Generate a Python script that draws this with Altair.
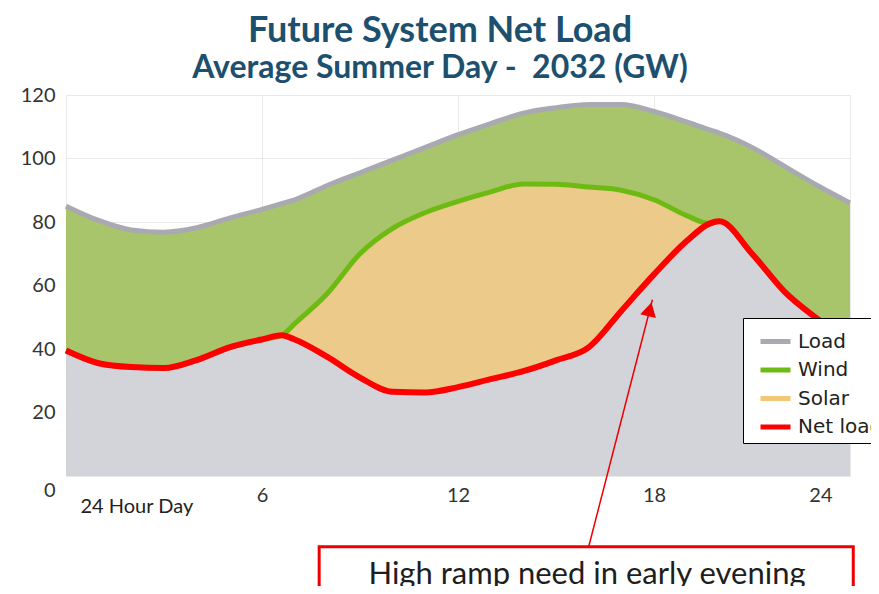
import altair as alt
import pandas as pd

# ---- data ----
hours = [0, 1, 2, 3, 4, 5, 6, 6.6, 7, 8, 9, 10, 11, 12, 13, 14, 15, 16, 17, 18, 19, 19.7, 20, 21, 22, 23, 24]
load = [85, 80.5, 77.5, 76.8, 78.2, 81.2, 84, 85.8, 87, 91.5, 95.5, 99.5, 103.5, 107.5, 111, 114.3, 116, 117, 117,
        114.8, 111.5, 109, 108, 103.5, 97.5, 91.5, 86]
net_load = [39.5, 35.5, 34.3, 34, 36.5, 40.5, 43, 44.3, 43, 37.5, 31, 26.5, 26.3, 28, 30.5, 33, 36.4, 40.5, 52,
            63.5, 74, 79.5, 80.2, 70, 58, 49.5, 42]
solar = [0, 0, 0, 0, 0, 0, 0, 0, 5, 20, 39, 51.5, 56.7, 58.5, 59, 59, 55.5, 50.5, 38, 23.5, 8, 0, 0, 0, 0, 0, 0]

series_names = ["Load", "Wind", "Solar", "Net load"]
series_colors = ["#a9a9b1", "#6dbb12", "#f2c878", "#ff0000"]

x_ticks = [0, 6, 12, 18, 24]
y_ticks = [0, 20, 40, 60, 80, 100, 120]

title_text = "Future System Net Load"
subtitle_text = "Average Summer Day -\u00a0 2032 (GW)"
x_title = "24 Hour Day"

note_text = ["High ramp need in early evening"]
note_box = {"x": [7.75], "x2": [24.1], "y": [-22.3], "y2": [-45]}
note_pos = {"x": [15.95], "y": [-34.0]}
arrow = {"x": [16.0], "y": [-22.3], "x2": [17.95], "y2": [55.5]}
arrow_head = {"x": [17.87], "y": [52.5]}

# ---- tables ----
wind = [l - n - s for l, n, s in zip(load, net_load, solar)]
df = pd.DataFrame({"hour": hours, "load": load, "net": net_load, "solar": solar, "wind": wind})
df["top"] = df["net"] + df["solar"]

lines = pd.concat([
    pd.DataFrame({"hour": hours, "value": load, "series": "Load"}),
    pd.DataFrame({"hour": hours, "value": list(df["top"]), "series": "Wind"}),
    pd.DataFrame({"hour": hours, "value": net_load, "series": "Net load"}),
])

FONT = "Lato"
xscale = alt.Scale(domain=[0, 24], nice=False, zero=False)
yscale = alt.Scale(domain=[0, 120], nice=False)

xaxis = alt.Axis(values=x_ticks, labelExpr="datum.value == 0 ? '' : datum.label",
                 labelOffset={"condition": {"test": "datum.value == 24", "value": -18}, "value": 0},
                 labelFont=FONT, labelFontSize=20, labelColor="#333333", labelPadding=9,
                 ticks=False, domain=False, grid=True, gridColor="#e9e9e9",
                 title=x_title, titleFont=FONT, titleFontSize=20, titleFontWeight="normal",
                 titleColor="#222222", titleX=14, titleY=30, titleAlign="left", titleBaseline="middle")
yaxis = alt.Axis(values=y_ticks,
                 labelOffset={"condition": {"test": "datum.value == 0", "value": 14}, "value": 0},
                 labelFont=FONT, labelFontSize=20, labelColor="#333333", labelPadding=11,
                 ticks=False, domain=False, grid=True, gridColor="#e9e9e9", title=None)

X = alt.X("hour:Q", scale=xscale, axis=xaxis)

base = alt.Chart(df)
area_wind = base.mark_area(color="#a8c56b", interpolate="monotone").encode(
    x=X, y=alt.Y("load:Q", scale=yscale, axis=yaxis))
area_solar = base.mark_area(color="#ebca8a", interpolate="monotone").encode(
    x=X, y=alt.Y("top:Q", scale=yscale))
area_net = base.mark_area(color="#d3d3da", interpolate="monotone").encode(
    x=X, y=alt.Y("net:Q", scale=yscale))

color = alt.Color("series:N",
                  scale=alt.Scale(domain=series_names, range=series_colors),
                  legend=alt.Legend(orient="none", legendX=677, legendY=223, title=None,
                                    fillColor="white", strokeColor="black", padding=6,
                                    symbolType="stroke", symbolSize=900, symbolStrokeWidth=5,
                                    symbolOffset=9, labelOffset=5,
                                    labelFont="DejaVu Sans", labelFontSize=20, labelColor="#222222",
                                    rowPadding=0.5))

lbase = alt.Chart(lines)
line_load = lbase.transform_filter("datum.series == 'Load'").mark_line(
    strokeWidth=5, interpolate="monotone").encode(x=X, y=alt.Y("value:Q", scale=yscale), color=color)
line_wind = lbase.transform_filter("datum.series == 'Wind'").mark_line(
    strokeWidth=5, interpolate="monotone").encode(x=X, y=alt.Y("value:Q", scale=yscale), color=color)
line_net = lbase.transform_filter("datum.series == 'Net load'").mark_line(
    strokeWidth=6, interpolate="monotone").encode(x=X, y=alt.Y("value:Q", scale=yscale), color=color)

box = alt.Chart(pd.DataFrame(note_box)).mark_rect(fill="white", stroke="#ee0000", strokeWidth=3).encode(
    x=alt.X("x:Q", scale=xscale), x2="x2:Q", y=alt.Y("y:Q", scale=yscale), y2="y2:Q")
note = alt.Chart(pd.DataFrame({"x": note_pos["x"], "y": note_pos["y"], "t": note_text})).mark_text(
    font=FONT, fontSize=31, color="#1e1e1e", align="center", baseline="alphabetic").encode(
    x=alt.X("x:Q", scale=xscale), y=alt.Y("y:Q", scale=yscale), text="t:N")
arrow_line = alt.Chart(pd.DataFrame(arrow)).mark_rule(color="#ee0000", strokeWidth=1.5).encode(
    x=alt.X("x:Q", scale=xscale), y=alt.Y("y:Q", scale=yscale), x2="x2:Q", y2="y2:Q")
arrow_tip = alt.Chart(pd.DataFrame(arrow_head)).mark_point(
    shape="triangle-up", filled=True, size=260, angle=14, color="#ee0000", opacity=1).encode(
    x=alt.X("x:Q", scale=xscale), y=alt.Y("y:Q", scale=yscale))

chart = alt.layer(area_wind, area_solar, area_net, line_load, line_wind, line_net,
                  box, note, arrow_line, arrow_tip).properties(
    width=784, height=381,
    autosize=alt.AutoSizeParams(type="none"),
    padding={"left": 58, "top": 87, "right": 21, "bottom": 110},
    title=alt.TitleParams(text=title_text, subtitle=subtitle_text, anchor="middle", dx=-18,
                          font=FONT, fontSize=36, fontWeight="bold", color="#1d4f6e",
                          subtitleFont=FONT, subtitleFontSize=32, subtitleFontWeight="bold",
                          subtitleColor="#1d4f6e", subtitlePadding=3, offset=0),
).configure_view(strokeWidth=0).configure(background="white")

chart.save("out.html", embed_options={"renderer": "svg", "actions": False})
